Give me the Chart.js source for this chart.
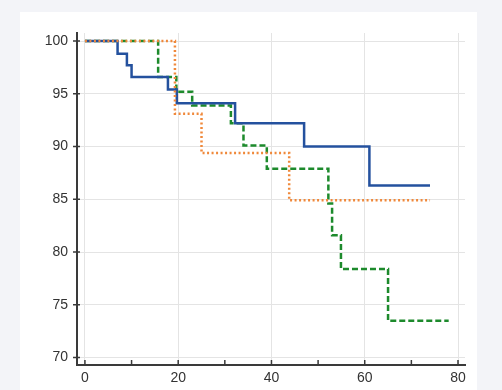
<!DOCTYPE html>
<html>
<head>
<meta charset="utf-8">
<script src="https://cdn.jsdelivr.net/npm/chart.js@4/dist/chart.umd.min.js"></script>
<style>
  html, body { margin: 0; padding: 0; }
  body { width: 502px; height: 390px; background: #f3f4f8; position: relative; overflow: hidden; }
  #panel { position: absolute; left: 20px; top: 12px; width: 457px; height: 378px; background: #ffffff; }
  #chart { position: absolute; left: 0; top: 0; }
</style>
</head>
<body>
<div id="panel"></div>
<canvas id="chart" width="502" height="390"></canvas>
<script>
// survival curves (time, % surviving)
const blueTime = [0, 7, 9, 10, 17.8, 19.7, 32.2, 47, 61, 74];
const blueSurv = [100, 98.8, 97.7, 96.6, 95.4, 94.1, 92.2, 90.0, 86.3, 86.3];

const orangeTime = [0, 19.3, 25, 43.8, 74];
const orangeSurv = [100, 93.1, 89.4, 84.9, 84.9];

const greenTime = [0, 15.7, 19.6, 23, 31.3, 34, 39, 52.2, 53, 54.9, 65, 78];
const greenSurv = [100, 96.6, 95.2, 93.9, 92.2, 90.1, 87.9, 84.6, 81.6, 78.4, 73.5, 73.5];

const xTicks = [0, 20, 40, 60, 80];
const xMinorTicks = [10, 30, 50, 70];
const yTicks = [70, 75, 80, 85, 90, 95, 100];

function toPoints(xs, ys) {
  return xs.map((x, i) => ({ x: x, y: ys[i] }));
}

// small inward tick marks on both axes
const innerTicks = {
  id: 'innerTicks',
  afterDraw(chart) {
    const ctx = chart.ctx;
    const x = chart.scales.x;
    const y = chart.scales.y;
    const area = chart.chartArea;
    ctx.save();
    ctx.strokeStyle = '#3a3a3a';
    ctx.lineWidth = 1.5;
    ctx.beginPath();
    xTicks.concat(xMinorTicks).forEach((v) => {
      const px = x.getPixelForValue(v);
      ctx.moveTo(px, area.bottom);
      ctx.lineTo(px, area.bottom - 5);
    });
    yTicks.forEach((v) => {
      const py = y.getPixelForValue(v);
      ctx.moveTo(area.left - 4, py);
      ctx.lineTo(area.left + 3, py);
    });
    ctx.stroke();
    ctx.restore();
  },
};

const ctx = document.getElementById('chart').getContext('2d');
new Chart(ctx, {
  type: 'line',
  data: {
    datasets: [
      {
        label: 'Orange',
        data: toPoints(orangeTime, orangeSurv),
        borderColor: '#f0883a',
        borderWidth: 2.5,
        borderDash: [2, 2.5],
        stepped: true,
        pointRadius: 0,
        fill: false,
      },
      {
        label: 'Blue',
        data: toPoints(blueTime, blueSurv),
        borderColor: '#24519e',
        borderWidth: 2.5,
        stepped: true,
        pointRadius: 0,
        fill: false,
      },
      {
        label: 'Green',
        data: toPoints(greenTime, greenSurv),
        borderColor: '#1d8a2c',
        borderWidth: 2.5,
        borderDash: [6, 3],
        stepped: true,
        pointRadius: 0,
        fill: false,
      },
    ],
  },
  options: {
    responsive: false,
    animation: false,
    layout: { padding: { top: 33, right: 37, left: 0, bottom: 0 } },
    plugins: { legend: { display: false }, tooltip: { enabled: false } },
    scales: {
      x: {
        type: 'linear',
        min: -1.7,
        max: 81.5,
        afterBuildTicks: (scale) => {
          scale.ticks = xTicks.map((v) => ({ value: v }));
        },
        afterFit: (scale) => {
          scale.height = 25;
        },
        grid: { color: '#e4e4e4', lineWidth: 1, drawTicks: false },
        border: { display: true, color: '#3a3a3a', width: 2 },
        ticks: {
          padding: 5,
          color: '#333',
          font: { family: 'Liberation Sans', size: 14 },
        },
      },
      y: {
        type: 'linear',
        min: 69.3,
        max: 100.76,
        afterBuildTicks: (scale) => {
          scale.ticks = yTicks.map((v) => ({ value: v }));
        },
        afterFit: (scale) => {
          scale.width = 77;
        },
        grid: { color: '#e4e4e4', lineWidth: 1, drawTicks: false },
        border: { display: true, color: '#3a3a3a', width: 2 },
        ticks: {
          padding: 9,
          color: '#333',
          font: { family: 'Liberation Sans', size: 14 },
        },
      },
    },
  },
  plugins: [innerTicks],
});
</script>
</body>
</html>
